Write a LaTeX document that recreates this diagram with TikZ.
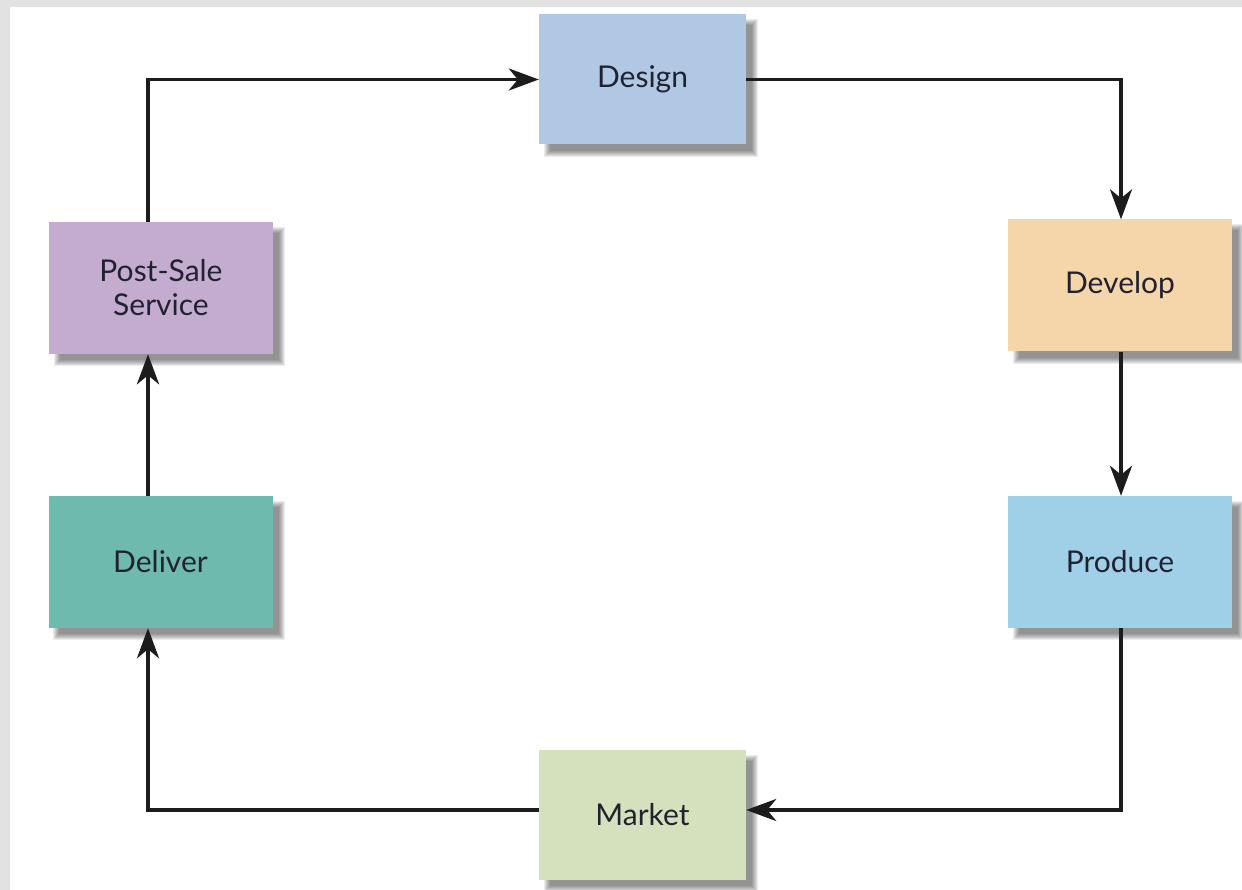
\documentclass[tikz,border=0pt]{standalone}
\usepackage{fontspec}
\setmainfont{Lato}
\usetikzlibrary{arrows.meta,backgrounds}

\definecolor{pagegray}{HTML}{E2E2E2}
\definecolor{txt}{HTML}{20222F}
\definecolor{line}{HTML}{1C1C1C}
\definecolor{cDesign}{HTML}{B0C8E4}
\definecolor{cDevelop}{HTML}{F5D5AA}
\definecolor{cProduce}{HTML}{9FD0E8}
\definecolor{cMarket}{HTML}{D5E1BC}
\definecolor{cDeliver}{HTML}{6FBAAF}
\definecolor{cPost}{HTML}{C3ACCF}

\tikzset{
  stage/.style={rectangle, inner sep=0pt, text=txt, align=center,
    font=\fontsize{30}{34}\selectfont},
  wide/.style={minimum width=224pt, minimum height=132pt},
  narrow/.style={minimum width=207pt, minimum height=130pt},
  flow/.style={draw=line, line width=3.6pt,
    -{Stealth[length=30pt, width=22pt, inset=9pt]}},
  softshade/.style={fill=black, fill opacity=0.075},
}

\begin{document}
\begin{tikzpicture}[x=1pt, y=-1pt]
  \useasboundingbox (0,0) rectangle (1242,890);

  % process stages
  \node[stage, narrow, fill=cDesign]  (design)  at (642.5,79.5) {Design};
  \node[stage, wide,   fill=cDevelop] (develop) at (1120,285.5) {Develop};
  \node[stage, wide,   fill=cProduce] (produce) at (1120,562)   {Produce};
  \node[stage, narrow, fill=cMarket]  (market)  at (642.5,815)  {Market};
  \node[stage, wide,   fill=cDeliver] (deliver) at (160.5,562)  {Deliver};
  \node[stage, wide,   fill=cPost]    (post)    at (161,288)    {Post-Sale\\Service};

  \begin{scope}[on background layer]
    % page background with the grey frame strip along top and left
    \fill[pagegray] (0,0) rectangle (1242,890);
    \fill[white] (10,7) rectangle (1242,890);
    % soft drop shadows, built from stacked translucent rectangles
    \foreach \n in {design,develop,produce,market,deliver,post}{
      \foreach \i in {0,...,6}{
        \fill[softshade] ([shift={(5+\i,5+\i)}]\n.north west)
                   rectangle ([shift={(12-\i,12-\i)}]\n.south east);
      }
    }
  \end{scope}

  % cycle connectors
  \draw[flow] ([xshift=-13pt]post.north) |- (design.west);
  \draw[flow] (design.east) -| ([xshift=1pt]develop.north);
  \draw[flow, line width=4.2pt] ([xshift=1pt]develop.south) -- ([xshift=1pt]produce.north);
  \draw[flow] ([xshift=1pt]produce.south) |- ([yshift=5pt]market.east);
  \draw[flow] ([yshift=5pt]market.west) -| ([xshift=-12.5pt]deliver.south);
  \draw[flow, line width=4.2pt] ([xshift=-12.5pt]deliver.north) -- ([xshift=-13pt]post.south);
\end{tikzpicture}
\end{document}
